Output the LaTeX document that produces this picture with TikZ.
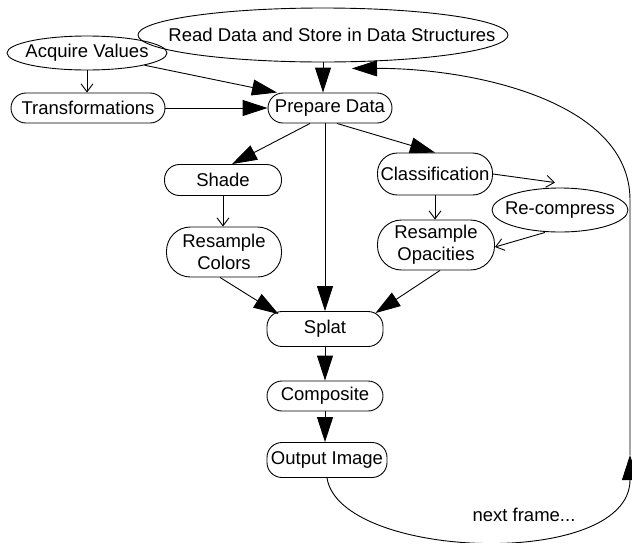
\documentclass[tikz,border=0pt]{standalone}
\usepackage{fontspec}
\setmainfont{Liberation Sans}
\usetikzlibrary{arrows.meta,shapes.geometric,calc}
\begin{document}
\begin{tikzpicture}[x=1pt,y=-1pt,
  every node/.style={font=\fontsize{18.5}{22}\selectfont},
  box/.style={draw, rounded corners=15pt, inner sep=0pt, align=center, line width=0.9pt},
  midbox/.style={box, rounded corners=20pt},
  tallbox/.style={box, rounded corners=24pt},
  oval/.style={draw, ellipse, inner sep=0pt, line width=0.9pt},
  big/.style={line width=0.9pt, -{Triangle[length=25pt,width=16pt]}},
  thin/.style={line width=0.9pt, -{Straight Barb[length=8pt,width=12pt]}},
]
\useasboundingbox (0,0) rectangle (632,542);

\node[oval, minimum width=370pt, minimum height=54pt] (read) at (323,35) {\makebox[0pt]{\hspace{18pt}Read Data and Store in Data Structures}};
\node[oval, minimum width=160pt, minimum height=34pt] (acq) at (87,53) {\makebox[0pt]{Acquire Values}};
\node[box, minimum width=154pt, minimum height=30pt] (trans) at (88,108) {Transformations};
\node[box, minimum width=124pt, minimum height=30pt] (prep) at (330,108) {Prepare Data};
\node[box, minimum width=117pt, minimum height=31pt] (shade) at (223,180) {Shade};
\node[tallbox, minimum width=115pt, minimum height=50pt] (rcol) at (224,252) {Resample\\Colors};
\node[midbox, minimum width=115pt, minimum height=42pt] (class) at (435,174) {Classification};
\node[oval, minimum width=136pt, minimum height=44pt] (rec) at (560,210) {\makebox[0pt]{Re-compress}};
\node[tallbox, minimum width=117pt, minimum height=50pt] (ropa) at (436,245) {Resample\\Opacities};
\node[box, minimum width=116pt, minimum height=35pt] (splat) at (325,329) {Splat};
\node[box, minimum width=116pt, minimum height=30pt] (comp) at (325,396) {Composite};
\node[box, minimum width=120pt, minimum height=35pt] (out) at (327,460) {Output Image};
\node (nf) at (524,515) {next frame...};
\coordinate (turn) at (630,455);

\draw[thin] (acq.south) -- (acq.south |- trans.north);
\draw[big] (acq.-12) -- ([xshift=-53pt]prep.north);
\draw[big] (trans.east) -- (prep.west);
\draw[big] (read.south) -- (read.south |- prep.north);
\draw[big] ([xshift=-20pt]prep.south) -- ([xshift=9pt]shade.north);
\draw[big] ([xshift=7pt]prep.south) -- (class.north);
\draw[big] (splat.north |- prep.south) -- (splat.north);
\draw[thin] (shade.south) -- (shade.south |- rcol.north);
\draw[thin] (class.south) -- (class.south |- ropa.north);
\draw[thin] (class.east) -- ([xshift=-5pt,yshift=5pt]rec.north);
\draw[thin] ([xshift=-15pt]rec.south) -- ([yshift=-2pt]ropa.east);
\draw[big] ([xshift=-4pt]rcol.south) -- ([xshift=12pt,yshift=-3pt]splat.north west);
\draw[big] ([xshift=4pt]ropa.south) -- ([xshift=-8pt,yshift=-2pt]splat.north east);
\draw[big] (splat.south) -- (comp.north);
\draw[big] (comp.south) -- (comp.south |- out.north);
\draw[big] (out.south) .. controls (340,560) and (630,570) .. (turn);
\draw[big] (turn) -- (630,200) .. controls (630,100) and (470,68) .. ([xshift=29pt,yshift=-6pt]read.south);
\end{tikzpicture}
\end{document}
